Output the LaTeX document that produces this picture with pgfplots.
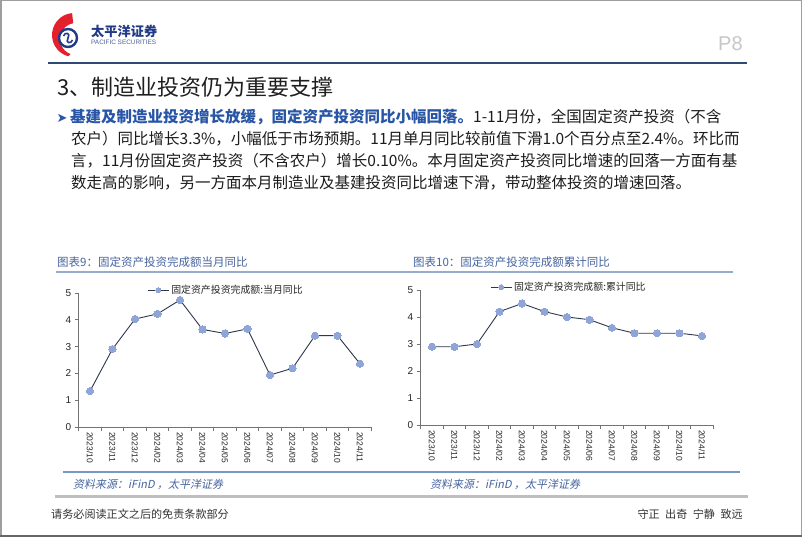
\documentclass[border=0pt]{standalone}
\usepackage{fontspec}
\setmainfont{Liberation Sans}
\newfontfamily\cjk{Noto Sans CJK SC}
\newfontfamily\cjkit[FakeSlant=0.2]{Noto Sans CJK SC}
\newfontfamily\dejavu{DejaVu Sans}
\usepackage{pgfplots}
\pgfplotsset{compat=1.18}

\definecolor{headnavy}{RGB}{47,75,115}
\definecolor{logored}{RGB}{228,32,45}
\definecolor{logoblue}{RGB}{32,58,135}
\definecolor{pblue}{RGB}{40,85,165}
\definecolor{captblue}{RGB}{70,100,158}
\definecolor{rulelight}{RGB}{150,172,205}
\definecolor{ruleblue}{RGB}{122,150,195}
\definecolor{linec}{RGB}{45,55,78}
\definecolor{markc}{RGB}{143,165,215}
\definecolor{textc}{RGB}{28,28,28}

\newcommand\fs[1]{\fontsize{#1}{#1}\selectfont}

\pgfplotsset{
  panel/.style={
    scale only axis, width=292.5pt,
    xmin=-0.5, xmax=12.5, ymin=0, ymax=5,
    axis lines=left, axis line style={-, draw=black!55, line width=0.8pt},
    tick align=outside, tick style={draw=black!55, line width=0.8pt},
    ytick={0,...,5}, major tick length=4pt,
    xtick={0,...,12},
    xticklabels={2023/10,2023/11,2023/12,2024/02,2024/03,2024/04,2024/05,2024/06,2024/07,2024/08,2024/09,2024/10,2024/11},
    major x tick style={draw=none},
    minor xtick={-0.5,0.5,...,12.5}, minor tick length=4pt,
    /pgf/number format/assume math mode=true,
    yticklabel style={font=\fs{10}, text=black!85},
    xticklabel style={font=\fs{8.5}, rotate=-90, anchor=west, text=black!85, inner sep=1pt},
    legend style={draw=none, fill=none, anchor=west, inner sep=0pt,
      font=\cjk\fs{9.9}, text=black!85},
    legend image code/.code={%
      \draw[mark repeat=2, mark phase=2, #1] plot coordinates {(0pt,0pt) (10.5pt,0pt) (21pt,0pt)};},
    legend image post style={mark size=2.5pt},
  },
  series/.style={color=linec, line width=0.9pt, mark=*, mark size=3.6pt,
    mark options={solid, draw=markc, fill=markc, line width=0pt}},
}

\begin{document}
\begin{tikzpicture}[x=1pt,y=1pt]
\useasboundingbox (0,0) rectangle (802,-537);
\fill[white] (0,0) rectangle (802,-537);
\draw[black!38, line width=1.5pt] (0.75,-0.75) rectangle (801.25,-535.5);
\draw[black!60, line width=2pt] (0,-536) -- (802,-536);

% logo
\fill[logored] (72.1,-13.1) arc[start angle=95, end angle=255, radius=22]
  -- (70.5,-54) arc[start angle=250, end angle=100, radius=16] -- cycle;
\draw[logoblue, line width=2.4pt, fill=white] (68,-38) circle[radius=9];
\draw[logoblue, line width=1.6pt] (63.5,-36) .. controls (65,-31.5) and (71,-33) .. (68,-38)
  .. controls (65,-43) and (71,-44.5) .. (72.5,-40);
\node[anchor=base west, inner sep=0pt, text=logoblue] at (91,-37)
  {\cjk\bfseries\fs{13.2}太平洋证券};
\node[anchor=base west, inner sep=0pt, text=logoblue!80] at (91,-44.3)
  {\fs{6.4}PACIFIC SECURITIES};
\node[anchor=base west, inner sep=0pt, text=black!22] at (718,-51)
  {\fs{20}P8};
\draw[headnavy, line width=2pt] (48,-63.3) -- (747,-63.3);

% heading and text
\node[anchor=base west, inner sep=0pt, text=black!88] at (57,-95.4)
  {\cjk\fs{22}3、制造业投资仍为重要支撑};
\node[anchor=base west, inner sep=0pt, text=pblue] at (56.5,-122.8)
  {\dejavu\fs{13}➤};
\node[anchor=base west, inner sep=0pt, text=textc] at (70,-122.9)
  {\cjk\fs{15.5}{\bfseries\color{pblue}基建及制造业投资增长放缓，固定资产投资同比小幅回落。}1-11月份，全国固定资产投资（不含};
\node[anchor=base west, inner sep=0pt, text=textc] at (71,-144.9)
  {\cjk\fs{15.5}农户）同比增长3.3\%，小幅低于市场预期。11月单月同比较前值下滑1.0个百分点至2.4\%。环比而};
\node[anchor=base west, inner sep=0pt, text=textc] at (71,-166.9)
  {\cjk\fs{15.5}言，11月份固定资产投资（不含农户）增长0.10\%。本月固定资产投资同比增速的回落一方面有基};
\node[anchor=base west, inner sep=0pt, text=textc] at (71,-188.9)
  {\cjk\fs{15.5}数走高的影响，另一方面本月制造业及基建投资同比增速下滑，带动整体投资的增速回落。};

% chart captions
\node[anchor=base west, inner sep=0pt, text=captblue] at (57,-266.4)
  {\cjk\fs{11.5}图表9：固定资产投资完成额当月同比};
\node[anchor=base west, inner sep=0pt, text=captblue] at (413,-266.4)
  {\cjk\fs{11.5}图表10：固定资产投资完成额累计同比};
\draw[rulelight, line width=1.2pt] (56,-272) -- (733,-272);

% left chart
\begin{axis}[panel, height=134pt, at={(78.75pt,-427pt)}, anchor=south west,
  legend style={at={(0.234,1.022)}}]
\addplot[series] table[x index=0, y index=1] {
0 1.34
1 2.91
2 4.03
3 4.22
4 4.74
5 3.64
6 3.49
7 3.66
8 1.94
9 2.19
10 3.41
11 3.41
12 2.36
};
\addlegendentry{固定资产投资完成额:当月同比}
\end{axis}

% right chart
\begin{axis}[panel, height=135pt, at={(420.75pt,-425pt)}, anchor=south west,
  legend style={at={(0.237,1.022)}}]
\addplot[series] table[x index=0, y index=1] {
0 2.9
1 2.9
2 3.0
3 4.2
4 4.5
5 4.2
6 4.0
7 3.9
8 3.6
9 3.4
10 3.4
11 3.4
12 3.3
};
\addlegendentry{固定资产投资完成额:累计同比}
\end{axis}

% sources and footer
\draw[ruleblue, line width=2pt] (63,-472) -- (740,-472);
\node[anchor=base west, inner sep=0pt, text=captblue] at (73,-488.2)
  {\cjkit\fs{11}资料来源：iFinD ，太平洋证券};
\node[anchor=base west, inner sep=0pt, text=captblue] at (430,-488.2)
  {\cjkit\fs{11}资料来源：iFinD ，太平洋证券};
\draw[black!25, line width=3pt] (55,-496.5) -- (748,-496.5);
\node[anchor=base west, inner sep=0pt, text=black!80] at (51,-518.2)
  {\cjk\fs{11.1}请务必阅读正文之后的免责条款部分};
\node[anchor=base east, inner sep=0pt, text=black!80] at (743,-518.2)
  {\cjk\fs{11.1}守正\hspace{5.5pt}出奇\hspace{5.5pt}宁静\hspace{5.5pt}致远};
\end{tikzpicture}
\end{document}
